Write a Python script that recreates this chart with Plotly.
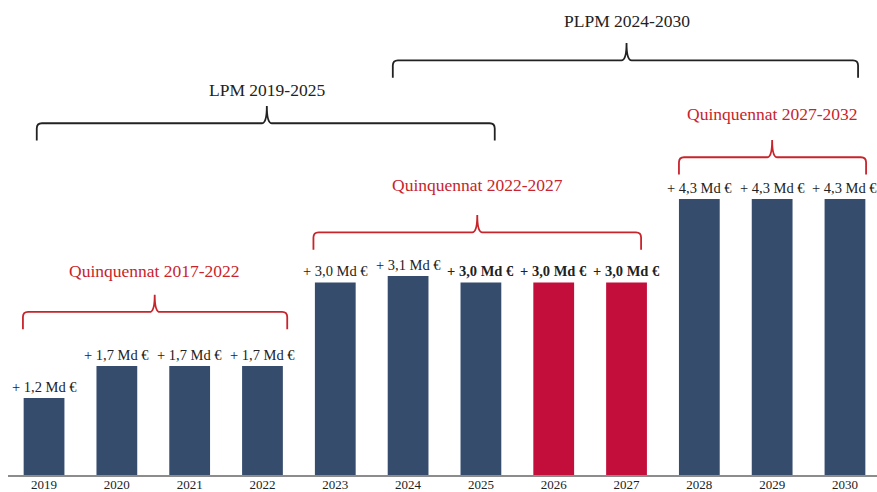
import plotly.graph_objects as go

years = ["2019", "2020", "2021", "2022", "2023", "2024", "2025", "2026", "2027", "2028", "2029", "2030"]
values = [1.2, 1.7, 1.7, 1.7, 3.0, 3.1, 3.0, 3.0, 3.0, 4.3, 4.3, 4.3]
bold_years = ["2025", "2026", "2027"]
red_years = ["2026", "2027"]

brace_labels = ["LPM 2019-2025", "PLPM 2024-2030",
                "Quinquennat 2017-2022", "Quinquennat 2022-2027", "Quinquennat 2027-2032"]
# layout of braces: (x start, x end, tip x, line y, label y, colour)
brace_layout = [
    (-0.10, 6.19, 3.06, 5.48, 6.00, "#222222"),
    (4.79, 11.18, 8.00, 6.46, 7.08, "#222222"),
    (-0.29, 3.34, 1.52, 2.54, 3.18, "#c8242c"),
    (3.70, 8.20, 5.95, 3.78, 4.52, "#c8242c"),
    (8.72, 11.29, 10.00, 4.95, 5.63, "#c8242c"),
]

FONT = "Palatino Linotype, Book Antiqua, Palatino, Liberation Serif, serif"
NAVY = "#354c6d"
RED = "#c30d3a"

xs = list(range(len(years)))
colors = [RED if y in red_years else NAVY for y in years]


def fmt(v, y):
    s = "+ " + f"{v:.1f}".replace(".", ",") + " Md €"
    return f"<b>{s}</b>" if y in bold_years else s


texts = [fmt(v, y) for v, y in zip(values, years)]

fig = go.Figure()
fig.add_trace(go.Bar(
    x=xs, y=values, width=0.56, marker=dict(color=colors, line=dict(width=0)),
    hoverinfo="skip",
))

for x, v, t in zip(xs, values, texts):
    fig.add_annotation(x=x, y=v, xref="x", yref="y", text=t, showarrow=False,
                       yanchor="bottom", yshift=1,
                       font=dict(family=FONT, size=14.5, color="#222222"))


def brace_path(x0, x1, xm, yl, rx=0.07, ry=0.08, depth=0.27, tip=0.27):
    return (f"M {x0},{yl - depth} L {x0},{yl - ry} Q {x0},{yl} {x0 + rx},{yl} "
            f"L {xm - rx},{yl} Q {xm},{yl} {xm},{yl + tip} "
            f"Q {xm},{yl} {xm + rx},{yl} L {x1 - rx},{yl} "
            f"Q {x1},{yl} {x1},{yl - ry} L {x1},{yl - depth}")


for label, (x0, x1, xm, yl, ly, col) in zip(brace_labels, brace_layout):
    fig.add_shape(type="path", xref="x", yref="y", path=brace_path(x0, x1, xm, yl),
                  line=dict(color=col, width=1.8))
    fig.add_annotation(x=xm, y=ly, xref="x", yref="y", text=label, showarrow=False,
                       font=dict(family=FONT, size=17.5, color=col))

fig.update_layout(
    width=877, height=492,
    margin=dict(l=8, r=0, t=0, b=17),
    paper_bgcolor="white", plot_bgcolor="white",
    showlegend=False,
    xaxis=dict(range=[-0.495, 11.44], tickmode="array", tickvals=xs, ticktext=years,
               automargin=False, ticklabelstandoff=-3,
               showgrid=False, zeroline=False, showline=True, linecolor="#8c8c8c",
               linewidth=1.5, ticks="", tickfont=dict(family=FONT, size=13, color="#222222")),
    yaxis=dict(range=[0, 7.4], visible=False, showgrid=False, zeroline=False,
               automargin=False),
)

fig.write_html("out.html")
